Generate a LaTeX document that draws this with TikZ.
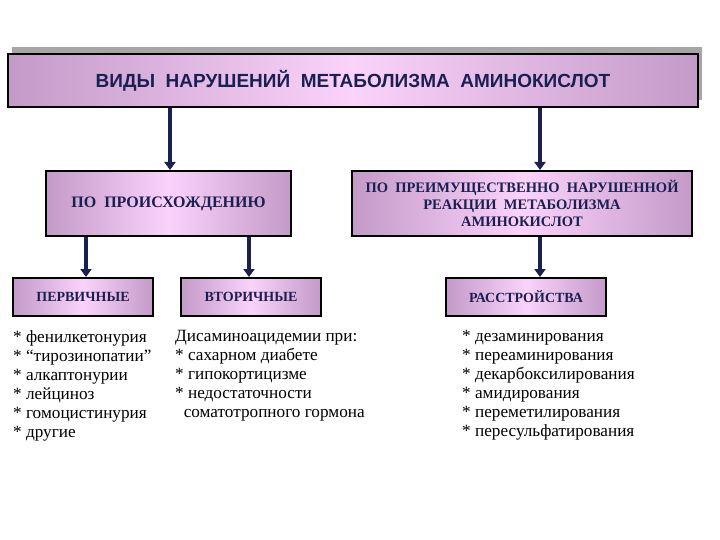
\documentclass[tikz,border=0pt]{standalone}
\usepackage{fontspec}
\setmainfont{Liberation Serif}
\newfontfamily\arialf{Liberation Sans}
\usetikzlibrary{arrows.meta}
\definecolor{ink}{HTML}{1A2050}
\definecolor{edgec}{HTML}{C49AC8}
\definecolor{midc}{HTML}{FAD2FA}
\tikzset{
 bx/.style={draw=black,line width=2pt,left color=edgec,right color=edgec,middle color=midc,text=ink,align=center,inner sep=0pt},
 shd/.style={fill=gray!70,draw=none},
 arr/.style={draw=ink,line width=3.2pt,-{Triangle[length=8pt,width=11pt]}},
 lst/.style={anchor=north west,align=left,font=\fontsize{17.2}{19}\selectfont,text=black,inner sep=0pt}
}
\begin{document}
\begin{tikzpicture}[x=1pt,y=-1pt]
\useasboundingbox (0,0) rectangle (720,540);
\fill[shd] (12,47) rectangle (702,100);
\node[bx,minimum width=690,minimum height=53,font=\arialf\bfseries\fontsize{19}{22}\selectfont] (t) at (353,80.5) {ВИДЫ\ \ НАРУШЕНИЙ\ \ МЕТАБОЛИЗМА\ \ АМИНОКИСЛОТ};
\node[bx,minimum width=245,minimum height=65,font=\bfseries\fontsize{16}{18}\selectfont] (a) at (168.5,203.5) {ПО\ \ ПРОИСХОЖДЕНИЮ};
\node[bx,minimum width=340,minimum height=65,font=\bfseries\fontsize{14.5}{17}\selectfont] (b) at (522,203.5) {ПО\ \ ПРЕИМУЩЕСТВЕННО\ \ НАРУШЕННОЙ\\РЕАКЦИИ\ \ МЕТАБОЛИЗМА\\АМИНОКИСЛОТ};
\node[bx,minimum width=140,minimum height=38,font=\bfseries\fontsize{14}{16}\selectfont] (p) at (83,297) {ПЕРВИЧНЫЕ};
\node[bx,minimum width=140,minimum height=38,font=\bfseries\fontsize{14}{16}\selectfont] (v) at (251,297) {ВТОРИЧНЫЕ};
\node[bx,minimum width=160,minimum height=38,font=\bfseries\fontsize{14}{16}\selectfont] (r) at (526,297) {РАССТРОЙСТВА};
\draw[arr] (t.south -| 170,0) -- (a.north -| 170,0);
\draw[arr] (t.south -| 540,0) -- (b.north -| 540,0);
\draw[arr] (a.south -| 86,0) -- (p.north -| 86,0);
\draw[arr] (a.south -| 249,0) -- (v.north -| 249,0);
\draw[arr] (b.south -| 540,0) -- (r.north -| 540,0);
\node[lst] (l1) at (13,330) {* фенилкетонурия\\* “тирозинопатии”\\* алкаптонурии\\* лейциноз\\* гомоцистинурия\\* другие};
\node[lst] (l2) at (175,330) {Дисаминоацидемии при:\\* сахарном диабете\\* гипокортицизме\\* недостаточности\\\ \ соматотропного гормона};
\node[lst] (l3) at (462,330) {* дезаминирования\\* переаминирования\\* декарбоксилирования\\* амидирования\\* переметилирования\\* пересульфатирования};
\end{tikzpicture}
\end{document}
